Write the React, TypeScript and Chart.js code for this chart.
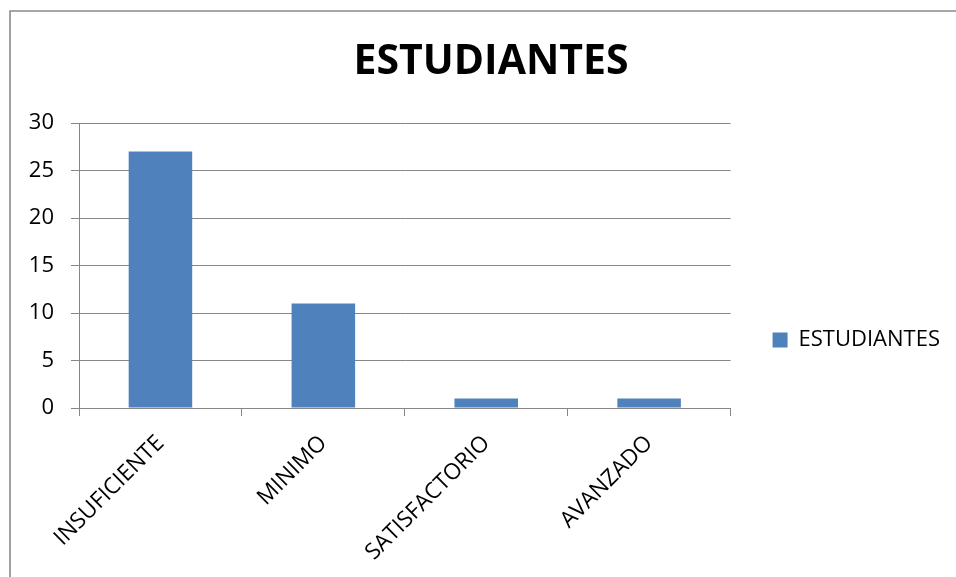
import React, { useEffect, useRef } from "react";
import { Chart, registerables } from "chart.js";

Chart.register(...registerables);

const categories: string[] = ["INSUFICIENTE", "MINIMO", "SATISFACTORIO", "AVANZADO"];
const seriesLabel = "ESTUDIANTES";
const studentValues: number[] = [27, 11, 1, 1];
const yTickMin = 0;
const yTickMax = 30;
const yTickStep = 5;
const chartTitle = "ESTUDIANTES";

const CANVAS_W = 966;
const CANVAS_H = 680;
const PAD = { left: 20, right: 16, top: 11, bottom: 11 };
const PLOT_LEFT = 79;
const PLOT_BOTTOM = 408;
const GRID = "#868686";
const FRAME_LEFT = 10;
const FRAME_RIGHT = 972;

const framePlugin = {
  id: "frameBorder",
  afterLayout(chart: any) {
    const t = chart.titleBlock;
    if (t) {
      t.left = FRAME_LEFT;
      t.right = FRAME_RIGHT;
      t.width = FRAME_RIGHT - FRAME_LEFT;
    }
  },
  beforeDraw(chart: any) {
    const ctx = chart.ctx;
    ctx.save();
    ctx.strokeStyle = "#8a8a8a";
    ctx.lineWidth = 1.6;
    ctx.beginPath();
    ctx.moveTo(FRAME_LEFT, chart.height);
    ctx.lineTo(FRAME_LEFT, 11);
    ctx.lineTo(chart.width, 11);
    ctx.stroke();
    ctx.restore();
  },
};

export default function App() {
  const ref = useRef<HTMLCanvasElement | null>(null);

  useEffect(() => {
    document.body.style.margin = "0";
    document.body.style.overflow = "hidden";
    document.documentElement.style.overflow = "hidden";
    if (!ref.current) return;
    const chart = new Chart(ref.current, {
      type: "bar",
      data: {
        labels: categories,
        datasets: [
          {
            label: seriesLabel,
            data: studentValues,
            backgroundColor: "#4F81BD",
            borderWidth: 0,
            barPercentage: 0.39,
            categoryPercentage: 1,
          },
        ],
      },
      options: {
        animation: false,
        responsive: true,
        maintainAspectRatio: false,
        layout: { padding: PAD },
        font: { family: "'Open Sans'" },
        plugins: {
          title: {
            display: true,
            text: chartTitle,
            color: "#000",
            font: { family: "'Open Sans'", size: 41, weight: "bold", lineHeight: 1.2 },
            padding: { top: 26.4, bottom: 36.4 },
          },
          legend: {
            display: true,
            position: "right",
            labels: {
              boxWidth: 15,
              boxHeight: 15,
              padding: 42,
              color: "#000",
              font: { family: "'Open Sans'", size: 22 },
            },
          },
          tooltip: { enabled: false },
        },
        scales: {
          x: {
            type: "category",
            offset: true,
            grid: {
              offset: true,
              drawOnChartArea: false,
              drawTicks: true,
              tickLength: 8,
              color: GRID,
            },
            border: { display: true, color: GRID },
            ticks: {
              autoSkip: false,
              maxRotation: 45,
              minRotation: 45,
              padding: 14,
              color: "#000",
              font: { family: "'Open Sans'", size: 22.5 },
            },
            afterFit(scale: any) {
              scale.height = CANVAS_H - PAD.bottom - PLOT_BOTTOM;
            },
          },
          y: {
            min: yTickMin,
            max: yTickMax,
            ticks: {
              stepSize: yTickStep,
              padding: 17,
              color: "#000",
              font: { family: "'Open Sans'", size: 22 },
            },
            grid: { color: GRID, tickLength: 8 },
            border: { display: true, color: GRID },
            afterFit(scale: any) {
              scale.width = PLOT_LEFT - PAD.left;
            },
          },
        },
      },
      plugins: [framePlugin],
    } as any);
    return () => chart.destroy();
  }, []);

  return (
    <div style={{ width: CANVAS_W, height: CANVAS_H, position: "relative" }}>
      <canvas ref={ref} />
    </div>
  );
}
